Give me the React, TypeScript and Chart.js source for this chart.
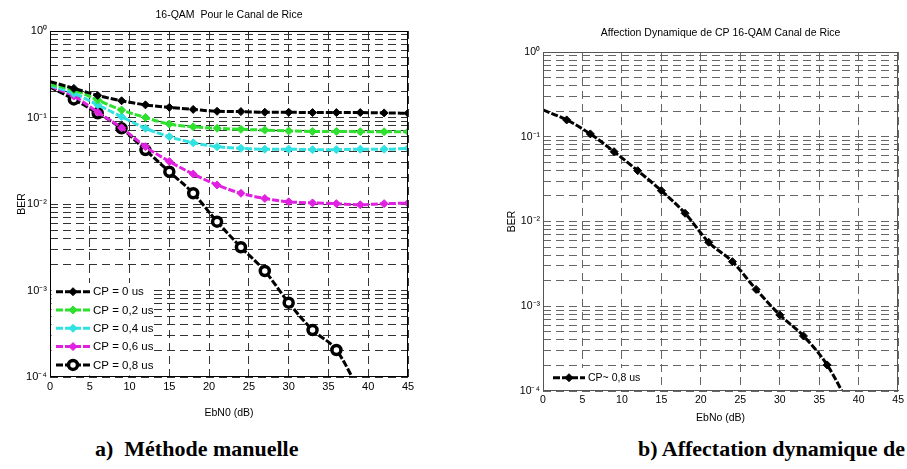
import React, { useEffect, useRef } from 'react';
import { Chart, registerables } from 'chart.js';

Chart.register(...registerables);

const FONT = "'Liberation Sans', Arial, Helvetica, sans-serif";
const CAPTION_FONT = "bold 22px 'Liberation Serif', 'Times New Roman', serif";

// ---- data ----
const ebno = [0, 3, 6, 9, 12, 15, 18, 21, 24, 27, 30, 33, 36, 39, 42, 45];
const xTickValues = [0, 5, 10, 15, 20, 25, 30, 35, 40, 45];

const berCp0 = [0.26, 0.217, 0.18, 0.156, 0.14, 0.131, 0.124, 0.118, 0.117, 0.115, 0.115, 0.114, 0.114, 0.114, 0.113, 0.112];
const berCp02 = [0.24, 0.208, 0.159, 0.122, 0.1, 0.084, 0.078, 0.075, 0.073, 0.0715, 0.07, 0.069, 0.069, 0.0685, 0.0685, 0.0685];
const berCp04 = [0.235, 0.19, 0.14, 0.102, 0.075, 0.06, 0.051, 0.046, 0.044, 0.043, 0.043, 0.0425, 0.0425, 0.043, 0.043, 0.044];
const berCp06 = [0.23, 0.177, 0.115, 0.076, 0.046, 0.031, 0.0222, 0.0166, 0.0133, 0.0116, 0.0106, 0.0103, 0.0101, 0.0098, 0.0101, 0.0102];
const berCp08 = [0.225, 0.162, 0.112, 0.075, 0.042, 0.0236, 0.0133, 0.00625, 0.00316, 0.00168, 0.000723, 0.000349, 0.000205, 0.000066];
const berDynamic = [0.207, 0.158, 0.108, 0.0667, 0.0398, 0.0231, 0.0125, 0.00568, 0.00336, 0.00158, 0.00079, 0.000446, 0.000203, 0.000063];

const manualLabels = ['CP = 0 us', 'CP = 0,2 us', 'CP = 0,4 us', 'CP = 0,6 us', 'CP = 0,8 us'];
const manualColors = ['#000000', '#2fe02f', '#30e2e2', '#e021e0', '#000000'];
const dynamicLabel = 'CP~ 0,8 us';

const yDecades = [1, 1e-1, 1e-2, 1e-3, 1e-4];
const yDecadeLabels = ['10⁰', '10⁻¹', '10⁻²', '10⁻³', '10⁻⁴'];
const yMinorFactors = [1, 2, 3, 4, 5, 6, 7, 8, 9];

const leftTitle = '16-QAM  Pour le Canal de Rice';
const rightTitle = 'Affection Dynamique de CP 16-QAM Canal de Rice';
const leftXLabel = 'EbN0 (dB)';
const rightXLabel = 'EbNo (dB)';
const yLabel = 'BER';
const captionA = 'a)  Méthode manuelle';
const captionB = 'b) Affectation dynamique de';

// ---- helpers ----
const toPoints = (values: number[]) => values.map((v, i) => ({ x: ebno[i], y: v }));

const yTickValues: number[] = (() => {
  const out: number[] = [];
  [1e-4, 1e-3, 1e-2, 1e-1].forEach((d) => yMinorFactors.forEach((f) => out.push(f * d)));
  out.push(1);
  return out;
})();

const yLabelFor = (value: number) => {
  const i = yDecades.findIndex((d) => Math.abs(d - value) / d < 1e-6);
  return i >= 0 ? yDecadeLabels[i] : '';
};

function drawMarker(ctx: CanvasRenderingContext2D, style: string, x: number, y: number, r: number, fill: string, stroke: string, bw: number) {
  ctx.save();
  ctx.setLineDash([]);
  ctx.beginPath();
  if (style === 'circle') {
    ctx.arc(x, y, r, 0, Math.PI * 2);
  } else {
    ctx.moveTo(x, y - r);
    ctx.lineTo(x + r, y);
    ctx.lineTo(x, y + r);
    ctx.lineTo(x - r, y);
    ctx.closePath();
  }
  ctx.fillStyle = fill;
  ctx.fill();
  ctx.lineWidth = bw;
  ctx.strokeStyle = stroke;
  ctx.stroke();
  ctx.restore();
}

const framePlugin = (color: string) => ({
  id: 'frame',
  afterDatasetsDraw(chart: any) {
    const { ctx, chartArea: a } = chart;
    ctx.save();
    ctx.setLineDash([]);
    ctx.strokeStyle = color;
    ctx.lineWidth = 1;
    ctx.strokeRect(Math.round(a.left) + 0.5, Math.round(a.top) + 0.5, Math.round(a.right - a.left) - 1, Math.round(a.bottom - a.top) - 1);
    ctx.restore();
  },
});

type LegendLayout = { w: number; h: number; rowStep: number; firstRowFromBottom: number; lineFrom: number; lineTo: number; textX: number; fontSize: number };

const legendPlugin = (L: LegendLayout) => ({
  id: 'insideLegend',
  afterDraw(chart: any) {
    const { ctx, chartArea: a } = chart;
    const datasets = chart.data.datasets;
    ctx.save();
    ctx.fillStyle = '#ffffff';
    ctx.fillRect(a.left + 1.5, a.bottom - L.h, L.w, L.h - 1.5);
    datasets.forEach((ds: any, i: number) => {
      const y = a.bottom - L.firstRowFromBottom + i * L.rowStep;
      ctx.save();
      ctx.strokeStyle = ds.borderColor;
      ctx.lineWidth = ds.borderWidth;
      ctx.setLineDash(ds.borderDash || []);
      ctx.beginPath();
      ctx.moveTo(a.left + L.lineFrom, y);
      ctx.lineTo(a.left + L.lineTo, y);
      ctx.stroke();
      ctx.restore();
      drawMarker(ctx, ds.pointStyle, a.left + (L.lineFrom + L.lineTo) / 2, y, ds.legendRadius, ds.pointBackgroundColor, ds.pointBorderColor, ds.pointBorderWidth);
      ctx.fillStyle = '#000';
      ctx.font = `${L.fontSize}px ${FONT}`;
      ctx.textAlign = 'left';
      ctx.textBaseline = 'middle';
      ctx.fillText(ds.label, a.left + L.textX, y + 0.5);
    });
    ctx.restore();
  },
});

function makeDataset(label: string, values: number[], color: string, style: 'rectRot' | 'circle') {
  const isCircle = style === 'circle';
  return {
    label,
    data: toPoints(values),
    borderColor: color,
    backgroundColor: color,
    borderWidth: 3,
    borderDash: [7, 2],
    cubicInterpolationMode: 'monotone',
    pointStyle: style,
    pointRadius: (c: any) => (c.dataIndex === 0 ? 0 : isCircle ? 4.5 : 4),
    legendRadius: isCircle ? 4.5 : 4,
    pointBackgroundColor: isCircle ? '#ffffff' : color,
    pointBorderColor: color,
    pointBorderWidth: isCircle ? 3.5 : 1,
    pointHoverRadius: 0,
    fill: false,
  };
}

type AxisLayout = {
  gridColor: string;
  tickSize: number;
  xHeight: number;
  yWidth: number;
  xTitle: string;
  xTitleBottom: number;
  yTitleTop: number;
};

function makeScales(A: AxisLayout) {
  return {
    x: {
      type: 'linear',
      min: 0,
      max: 45,
      afterBuildTicks: (s: any) => {
        s.ticks = xTickValues.map((v) => ({ value: v }));
      },
      afterFit: (s: any) => {
        s.height = A.xHeight;
      },
      ticks: { font: { family: FONT, size: A.tickSize }, color: '#000', padding: 3, maxRotation: 0, autoSkip: false },
      grid: { color: A.gridColor, lineWidth: 1, drawTicks: false },
      border: { display: false, dash: [8, 5] },
      title: { display: true, text: A.xTitle, color: '#000', font: { family: FONT, size: 10.5, weight: 'normal' }, padding: { top: 0, bottom: A.xTitleBottom } },
    },
    y: {
      type: 'logarithmic',
      min: 1e-4,
      max: 1,
      afterBuildTicks: (s: any) => {
        s.ticks = yTickValues.map((v) => ({ value: v }));
      },
      afterFit: (s: any) => {
        s.width = A.yWidth;
      },
      ticks: { font: { family: FONT, size: A.tickSize }, color: '#000', padding: 3, autoSkip: false, callback: (v: any) => yLabelFor(Number(v)) },
      grid: { color: A.gridColor, lineWidth: 1, drawTicks: false },
      border: { display: false, dash: [8, 5] },
      title: { display: true, text: yLabel, color: '#000', font: { family: FONT, size: 10.5, weight: 'normal' }, padding: { top: A.yTitleTop, bottom: 0 } },
    },
  };
}

export default function App() {
  const leftRef = useRef<HTMLCanvasElement | null>(null);
  const rightRef = useRef<HTMLCanvasElement | null>(null);

  useEffect(() => {
    const manualSeries = [berCp0, berCp02, berCp04, berCp06, berCp08];
    const left = new Chart(leftRef.current as HTMLCanvasElement, {
      type: 'line',
      data: {
        datasets: manualSeries.map((vals, i) =>
          makeDataset(manualLabels[i], vals, manualColors[i], i === 4 ? 'circle' : 'rectRot')
        ) as any,
      },
      options: {
        responsive: false,
        animation: false,
        events: [],
        layout: { padding: { left: 0, right: 32, top: 0, bottom: 5 } },
        plugins: {
          legend: { display: false },
          tooltip: { enabled: false },
          title: {
            display: true,
            text: leftTitle,
            fullSize: false,
            color: '#000',
            font: { family: FONT, size: 10.5, weight: 'normal', lineHeight: 1.2 },
            padding: { top: 9, bottom: 9.4 },
          },
        },
        scales: makeScales({ gridColor: '#333333', tickSize: 11, xHeight: 48, yWidth: 50, xTitle: leftXLabel, xTitleBottom: 5.7, yTitleTop: 15.7 }) as any,
      } as any,
      plugins: [
        framePlugin('#000000'),
        legendPlugin({ w: 102, h: 94, rowStep: 18.3, firstRowFromBottom: 85.3, lineFrom: 6, lineTo: 40, textX: 43, fontSize: 11.5 }),
      ],
    });

    const right = new Chart(rightRef.current as HTMLCanvasElement, {
      type: 'line',
      data: {
        datasets: [makeDataset(dynamicLabel, berDynamic, '#000000', 'rectRot')] as any,
      },
      options: {
        responsive: false,
        animation: false,
        events: [],
        layout: { padding: { left: 40, right: 7, top: 0, bottom: 0 } },
        plugins: {
          legend: { display: false },
          tooltip: { enabled: false },
          title: {
            display: true,
            text: rightTitle,
            fullSize: false,
            color: '#000',
            font: { family: FONT, size: 10.5, weight: 'normal', lineHeight: 1.2 },
            padding: { top: 26.7, bottom: 12.7 },
          },
        },
        scales: makeScales({ gridColor: '#666666', tickSize: 10.5, xHeight: 39, yWidth: 43, xTitle: rightXLabel, xTitleBottom: 5.7, yTitleTop: 5.7 }) as any,
      } as any,
      plugins: [
        framePlugin('#555555'),
        legendPlugin({ w: 111, h: 23, rowStep: 18, firstRowFromBottom: 13.3, lineFrom: 10, lineTo: 42, textX: 45, fontSize: 10.5 }),
      ],
    });

    return () => {
      left.destroy();
      right.destroy();
    };
  }, []);

  const captionStyle: React.CSSProperties = {
    position: 'absolute',
    top: 438,
    font: CAPTION_FONT,
    lineHeight: '22px',
    whiteSpace: 'pre',
    color: '#000',
  };

  return (
    <div style={{ position: 'absolute', left: 0, top: 0, width: 907, height: 469, background: '#ffffff', overflow: 'hidden' }}>
      <canvas ref={leftRef} width={440} height={430} style={{ position: 'absolute', left: 0, top: 0, width: 440, height: 430 }} />
      <canvas ref={rightRef} width={447} height={430} style={{ position: 'absolute', left: 460, top: 0, width: 447, height: 430 }} />
      <div style={{ ...captionStyle, left: 95 }}>{captionA}</div>
      <div style={{ ...captionStyle, right: 2 }}>{captionB}</div>
    </div>
  );
}
